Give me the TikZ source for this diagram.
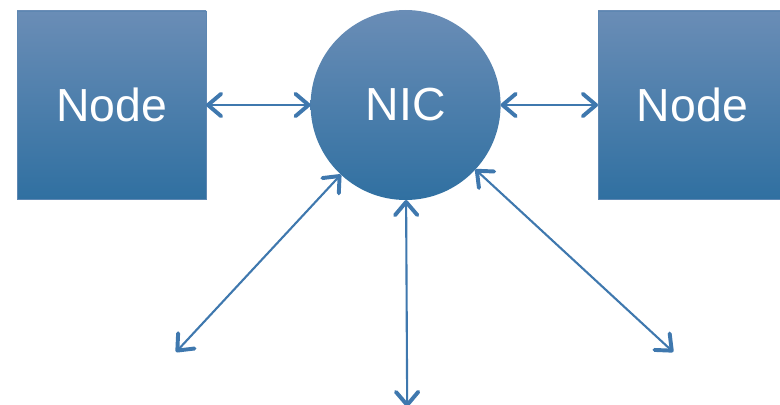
\documentclass[tikz,border=0pt]{standalone}
\usepackage{fontspec}
\setsansfont{Liberation Sans}
\usepackage{tikz}
\usetikzlibrary{positioning,arrows.meta}
\definecolor{blueTop}{HTML}{6A8DB6}
\definecolor{blueMid}{HTML}{3A7AAD}
\definecolor{blueBot}{HTML}{3070A1}
\definecolor{arrBlue}{HTML}{3F78AE}

\begin{document}
\begin{tikzpicture}[
    box/.style={draw=blueTop!80!blueBot, line width=0.4pt, top color=blueTop,
                middle color=blueMid, bottom color=blueBot,
                minimum width=4.72cm, minimum height=4.7cm,
                inner sep=0pt, outer sep=0pt, text=white,
                font=\sffamily\fontsize{33}{36}\selectfont},
    nic/.style={circle, top color=blueTop, middle color=blueMid, bottom color=blueBot,
                minimum size=4.75cm, inner sep=0pt, outer sep=0pt, text=white,
                font=\sffamily\fontsize{33}{36}\selectfont},
    barb/.tip={Straight Barb[length=3.3mm, width=5.6mm, line width=2.8pt, round]},
    arr/.style={barb-barb, draw=arrBlue, line width=1.5pt}
]
  \useasboundingbox (0,0) rectangle (19.5,10.125);
  \node[box] (left) at (2.79,7.5) {Node};
  \node[nic] (nic) at (10.14,7.5) {NIC};
  \node[box] (right) at (17.31,7.5) {Node};

  \coordinate (sw) at (4.4,1.325);
  \coordinate (s) at (10.18,-0.05);
  \coordinate (se) at (16.83,1.325);

  \draw[arr] (left) -- (nic);
  \draw[arr] (nic) -- (right);
  \draw[arr] (nic) -- (sw);
  \draw[arr] (nic) -- (s);
  \draw[arr] (nic) -- (se);
\end{tikzpicture}
\end{document}
